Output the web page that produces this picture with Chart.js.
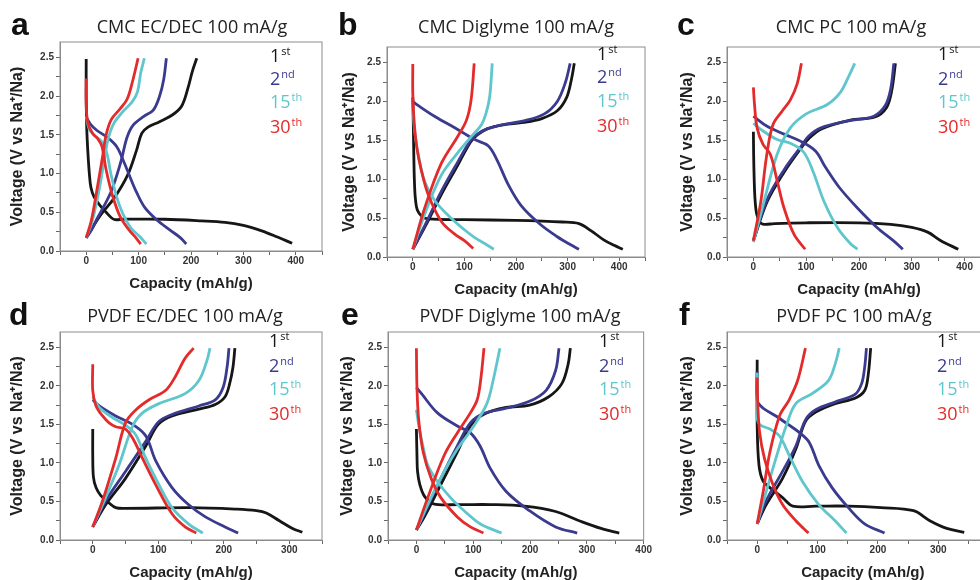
<!DOCTYPE html>
<html>
<head>
<meta charset="utf-8">
<script src="https://cdn.jsdelivr.net/npm/chart.js@4.4.1/dist/chart.umd.min.js"></script>
<style>
  html, body { margin: 0; padding: 0; background: #fff; }
  #fig { position: relative; width: 980px; height: 580px; overflow: hidden; background: #fff; }
  #fig canvas { position: absolute; }
  .ttl { position: absolute; width: 320px; text-align: center; font: 18px 'Open Sans', sans-serif; color: #222; line-height: 18px; white-space: nowrap; }
  .let { position: absolute; font: bold 32px 'Liberation Sans', Arial, sans-serif; color: #111; line-height: 32px; }
  .leg { position: absolute; font: 18px 'Open Sans', sans-serif; line-height: 18px; white-space: nowrap; }
  .leg sup { font-size: 11px; line-height: 0; vertical-align: baseline; position: relative; top: -7px; margin-left: 1px; }
</style>
</head>
<body>
<div id="fig"></div>
<script>
// cycles shown in every panel
const cycleLabels = ['1st', '2nd', '15th', '30th'];
const cycleSup = ['st', 'nd', 'th', 'th'];
const cycleNum = ['1', '2', '15', '30'];

// ---- panel a : CMC EC/DEC ----
const aDischarge = [
  [[0,2.48],[0,2.0],[1,1.6],[3,1.3],[6,1.0],[9,0.82],[15,0.7],[25,0.6],[38,0.5],[48,0.43],[55,0.405],[70,0.41],[150,0.41],[220,0.39],[265,0.37],[300,0.33],[335,0.26],[365,0.18],[393,0.10]],
  [[0,1.73],[8,1.64],[20,1.56],[40,1.47],[58,1.35],[72,1.15],[84,0.95],[96,0.76],[112,0.56],[135,0.40],[160,0.27],[180,0.17],[191,0.09]],
  [[0,1.74],[6,1.57],[15,1.5],[24,1.45],[33,1.38],[40,1.25],[47,1.0],[58,0.7],[70,0.48],[85,0.3],[103,0.18],[115,0.09]],
  [[0,2.23],[0,1.9],[3,1.66],[12,1.52],[22,1.45],[30,1.35],[38,1.05],[50,0.72],[65,0.44],[82,0.27],[95,0.17],[104,0.09]]
];
const aCharge = [
  [[0,0.17],[8,0.26],[28,0.47],[53,0.68],[79,0.98],[96,1.3],[106,1.52],[118,1.6],[140,1.67],[165,1.76],[182,1.87],[194,2.1],[203,2.33],[211,2.49]],
  [[0,0.17],[10,0.27],[21,0.42],[47,0.76],[66,1.15],[78,1.47],[90,1.63],[110,1.74],[128,1.82],[140,2.0],[148,2.22],[153,2.49]],
  [[0,0.17],[12,0.4],[25,0.8],[35,1.2],[42,1.45],[52,1.64],[70,1.8],[88,1.93],[98,2.06],[104,2.3],[111,2.49]],
  [[0,0.17],[10,0.4],[22,0.85],[32,1.25],[38,1.5],[48,1.7],[65,1.84],[78,1.96],[88,2.18],[99,2.49]]
];

// ---- panel b : CMC Diglyme ----
const bDischarge = [
  [[0,2.05],[1,1.7],[2,1.3],[3,1.0],[5,0.75],[9,0.6],[18,0.52],[30,0.49],[100,0.48],[200,0.47],[290,0.45],[322,0.43],[345,0.34],[370,0.22],[390,0.15],[407,0.10]],
  [[0,2.0],[10,1.95],[42,1.81],[87,1.64],[120,1.51],[146,1.43],[163,1.25],[185,0.93],[210,0.66],[245,0.43],[280,0.26],[305,0.16],[322,0.10]],
  [[0,1.9],[4,1.6],[11,1.3],[23,0.97],[42,0.73],[74,0.50],[100,0.35],[120,0.25],[140,0.17],[157,0.10]],
  [[0,2.48],[0,2.1],[3,1.7],[8,1.4],[16,1.13],[30,0.8],[55,0.46],[80,0.30],[100,0.21],[117,0.11]]
];
const bCharge = [
  [[0,0.1],[23,0.38],[55,0.80],[87,1.18],[112,1.48],[125,1.57],[145,1.65],[175,1.70],[215,1.73],[250,1.78],[280,1.88],[298,2.05],[307,2.27],[313,2.49]],
  [[0,0.1],[23,0.4],[55,0.84],[87,1.22],[112,1.5],[125,1.58],[145,1.65],[172,1.70],[215,1.75],[255,1.84],[280,2.0],[296,2.25],[305,2.49]],
  [[0,0.1],[23,0.55],[55,1.05],[87,1.34],[115,1.56],[133,1.7],[142,1.85],[149,2.06],[154,2.49]],
  [[0,0.1],[23,0.63],[55,1.2],[87,1.55],[104,1.76],[113,2.02],[119,2.49]]
];

// ---- panel c : CMC PC ----
const cDischarge = [
  [[0,1.61],[0.5,1.3],[1.5,1.0],[3,0.75],[6,0.56],[12,0.45],[20,0.42],[40,0.43],[100,0.44],[200,0.44],[260,0.42],[300,0.38],[330,0.32],[355,0.21],[388,0.10]],
  [[0,1.81],[26,1.68],[58,1.58],[89,1.49],[118,1.36],[135,1.17],[162,0.9],[197,0.63],[234,0.38],[265,0.21],[283,0.10]],
  [[0,1.72],[14,1.64],[45,1.51],[71,1.46],[95,1.35],[113,1.1],[134,0.71],[159,0.38],[184,0.17],[197,0.10]],
  [[0,2.18],[2,1.97],[7,1.66],[18,1.45],[32,1.32],[45,0.98],[58,0.63],[77,0.29],[98,0.10]]
];
const cCharge = [
  [[0,0.21],[26,0.71],[58,1.09],[89,1.39],[106,1.53],[130,1.65],[184,1.76],[230,1.8],[252,1.92],[262,2.14],[269,2.49]],
  [[0,0.21],[26,0.74],[58,1.12],[89,1.41],[104,1.55],[128,1.66],[180,1.75],[228,1.81],[250,1.95],[260,2.16],[266,2.49]],
  [[0,0.19],[20,0.71],[45,1.32],[70,1.66],[100,1.84],[140,1.96],[165,2.12],[181,2.33],[192,2.49]],
  [[0,0.21],[14,0.71],[25,1.3],[37,1.7],[55,1.88],[70,2.02],[83,2.23],[91,2.49]]
];

// ---- panel d : PVDF EC/DEC ----
const dDischarge = [
  [[0,1.44],[0,1.1],[1,0.82],[5,0.68],[12,0.58],[25,0.48],[35,0.42],[50,0.41],[150,0.42],[220,0.40],[250,0.38],[265,0.35],[285,0.25],[305,0.15],[320,0.10]],
  [[0,1.82],[10,1.74],[35,1.61],[61,1.50],[81,1.35],[96,1.03],[121,0.68],[146,0.46],[172,0.30],[202,0.17],[222,0.09]],
  [[0,1.86],[10,1.72],[30,1.59],[50,1.49],[66,1.36],[81,1.06],[101,0.72],[121,0.42],[146,0.21],[168,0.09]],
  [[0,2.28],[0,1.94],[5,1.74],[15,1.61],[25,1.52],[35,1.47],[50,1.44],[61,1.32],[76,1.06],[96,0.72],[121,0.34],[141,0.17],[158,0.09]]
];
const dCharge = [
  [[0,0.17],[20,0.46],[50,0.80],[81,1.22],[100,1.5],[121,1.61],[162,1.70],[187,1.76],[202,1.86],[209,2.03],[214,2.24],[217,2.49]],
  [[0,0.17],[20,0.51],[50,0.89],[81,1.28],[100,1.53],[121,1.63],[162,1.74],[187,1.82],[199,1.98],[205,2.24],[208,2.49]],
  [[0,0.17],[15,0.46],[40,0.97],[61,1.48],[76,1.65],[101,1.77],[141,1.90],[162,2.07],[174,2.32],[179,2.49]],
  [[0,0.17],[15,0.51],[35,1.06],[50,1.52],[66,1.69],[86,1.82],[111,1.94],[126,2.12],[141,2.36],[154,2.49]]
];

// ---- panel e : PVDF Diglyme ----
const eDischarge = [
  [[0,1.44],[1,1.1],[2,0.89],[6,0.72],[14,0.57],[30,0.47],[75,0.46],[130,0.46],[190,0.44],[245,0.37],[290,0.24],[325,0.15],[357,0.09]],
  [[0,1.98],[9,1.90],[37,1.65],[72,1.48],[95,1.39],[112,1.22],[130,0.93],[158,0.63],[199,0.38],[245,0.17],[283,0.09]],
  [[0,1.69],[5,1.45],[12,1.2],[20,0.97],[37,0.76],[60,0.55],[84,0.38],[112,0.21],[150,0.09]],
  [[0,2.49],[1,1.98],[4,1.56],[12,1.14],[26,0.80],[43,0.55],[72,0.30],[95,0.17],[118,0.09]]
];
const eCharge = [
  [[0,0.13],[14,0.30],[43,0.72],[72,1.14],[95,1.48],[118,1.63],[158,1.72],[199,1.75],[233,1.86],[256,2.03],[267,2.28],[271,2.49]],
  [[0,0.13],[14,0.34],[43,0.80],[72,1.22],[95,1.52],[118,1.64],[158,1.71],[199,1.80],[228,1.94],[245,2.20],[251,2.49]],
  [[0,0.13],[20,0.46],[49,0.89],[72,1.18],[101,1.48],[124,1.77],[135,2.07],[147,2.49]],
  [[0,0.13],[20,0.55],[49,1.10],[72,1.39],[95,1.65],[107,1.82],[113,2.07],[119,2.49]]
];

// ---- panel f : PVDF PC ----
const fDischarge = [
  [[0,2.34],[0,1.49],[3,0.97],[10,0.76],[21,0.68],[42,0.55],[59,0.44],[97,0.44],[151,0.44],[205,0.42],[259,0.38],[286,0.25],[314,0.15],[343,0.10]],
  [[0,2.19],[0,1.81],[10,1.71],[31,1.61],[53,1.49],[69,1.40],[86,1.27],[102,0.97],[124,0.68],[151,0.42],[178,0.21],[211,0.09]],
  [[0,2.17],[0,1.60],[4,1.50],[21,1.44],[37,1.35],[53,1.10],[75,0.76],[102,0.46],[129,0.25],[148,0.09]],
  [[0,2.11],[1,1.77],[4,1.40],[12,1.06],[26,0.72],[42,0.46],[64,0.25],[85,0.09]]
];
const fCharge = [
  [[0,0.21],[15,0.46],[42,0.80],[64,1.18],[80,1.54],[97,1.66],[129,1.77],[162,1.84],[178,1.94],[184,2.15],[188,2.49]],
  [[0,0.21],[15,0.51],[42,0.89],[64,1.22],[80,1.56],[97,1.69],[129,1.79],[162,1.89],[173,2.03],[178,2.24],[181,2.49]],
  [[0,0.21],[15,0.63],[31,1.06],[48,1.48],[64,1.77],[91,1.90],[118,2.07],[129,2.28],[136,2.49]],
  [[0,0.21],[10,0.63],[21,1.14],[37,1.61],[53,1.82],[67,2.07],[80,2.49]]
];

const panelTitles = ['CMC EC/DEC 100 mA/g', 'CMC Diglyme 100 mA/g', 'CMC PC 100 mA/g',
                     'PVDF EC/DEC 100 mA/g', 'PVDF Diglyme 100 mA/g', 'PVDF PC 100 mA/g'];
const panelLetters = ['a', 'b', 'c', 'd', 'e', 'f'];
const xMaxes = [450, 450, 450, 350, 400, 400];
const xTitle = 'Capacity (mAh/g)';
const yTitle = 'Voltage (V vs Na\u207A/Na)';

const discharges = [aDischarge, bDischarge, cDischarge, dDischarge, eDischarge, fDischarge];
const charges = [aCharge, bCharge, cCharge, dCharge, eCharge, fCharge];

// layout: plot box, y-title offset, title centre / baseline, letter, legend
const boxes = [
  {L: 60,  R: 322,  T: 38,  B: 251, yt: 42, tx: 192, tb: 33,  lx: 11,  lb: 33,  gx: 270, gb: [62, 85, 108, 133]},
  {L: 387, R: 645,  T: 43,  B: 257, yt: 37, tx: 516, tb: 33,  lx: 338, lb: 33,  gx: 597, gb: [60, 83, 107, 132]},
  {L: 727, R: 991,  T: 43,  B: 257, yt: 39, tx: 851, tb: 33,  lx: 677, lb: 33,  gx: 938, gb: [60, 85, 108, 133]},
  {L: 60,  R: 322,  T: 328, B: 540, yt: 42, tx: 185, tb: 322, lx: 9,   lb: 323, gx: 269, gb: [347, 372, 395, 420]},
  {L: 388, R: 648,  T: 328, B: 540, yt: 40, tx: 520, tb: 322, lx: 341, lb: 323, gx: 599, gb: [347, 372, 395, 420]},
  {L: 727, R: 1003, T: 328, B: 540, yt: 39, tx: 854, tb: 322, lx: 679, lb: 323, gx: 937, gb: [347, 372, 395, 420]}
];

const lineColors = ['#161616', '#3a3a8e', '#5ec6cc', '#e42b2b'];
const tickFont = {family: "'Liberation Sans', Arial, sans-serif", size: 10, weight: 'bold'};

const framePlugin = {
  id: 'frame',
  afterDraw(chart) {
    const {ctx, chartArea: a} = chart;
    ctx.save();
    ctx.strokeStyle = '#8c8c8c';
    ctx.lineWidth = 1;
    ctx.strokeRect(a.left, a.top, a.right - a.left, a.bottom - a.top);
    ctx.restore();
  }
};

const fig = document.getElementById('fig');

function toXY(arr) { return arr.map(p => ({x: p[0], y: p[1]})); }

function addText(cls, left, top, html, color) {
  const d = document.createElement('div');
  d.className = cls;
  d.style.left = left + 'px';
  d.style.top = top + 'px';
  if (color) d.style.color = color;
  d.innerHTML = html;
  fig.appendChild(d);
}

boxes.forEach((b, k) => {
  const W = b.R - b.L + 62, H = b.B - b.T + 46;
  const cv = document.createElement('canvas');
  cv.width = W; cv.height = H;
  cv.style.left = (b.L - 58) + 'px';
  cv.style.top = (b.T - 4) + 'px';
  cv.style.width = W + 'px'; cv.style.height = H + 'px';
  fig.appendChild(cv);

  const datasets = [];
  for (let i = 3; i >= 0; i--) {
    [discharges[k][i], charges[k][i]].forEach((curve, j) => {
      datasets.push({
        label: cycleLabels[i] + (j ? ' charge' : ' discharge'),
        data: toXY(curve),
        showLine: true,
        borderColor: lineColors[i],
        borderWidth: 2.8,
        pointRadius: 0,
        tension: 0.35,
        fill: false
      });
    });
  }

  new Chart(cv, {
    type: 'scatter',
    data: {datasets},
    options: {
      responsive: false,
      animation: false,
      layout: {padding: {top: 4, right: 4, left: 0, bottom: 0}},
      plugins: {legend: {display: false}, tooltip: {enabled: false}},
      scales: {
        x: {
          type: 'linear', min: -50, max: xMaxes[k],
          afterFit: s => { s.height = 42; },
          ticks: {stepSize: 50, autoSkip: false, maxRotation: 0, includeBounds: false, padding: 0,
                  font: tickFont, color: '#333',
                  callback: v => (v >= 0 && v % 100 === 0) ? String(v) : ''},
          grid: {drawOnChartArea: false, tickLength: 4, color: '#666'},
          border: {display: true, color: '#8c8c8c'},
          title: {display: true, text: xTitle, color: '#222', padding: 0,
                  font: {family: "'Liberation Sans', Arial, sans-serif", size: 15, weight: 'bold'}}
        },
        y: {
          type: 'linear', min: 0, max: 2.7,
          afterFit: s => { s.width = 58; },
          ticks: {stepSize: 0.25, autoSkip: false, includeBounds: false, padding: 2,
                  font: tickFont, color: '#333',
                  callback: v => (Math.abs(v * 2 - Math.round(v * 2)) < 1e-6) ? v.toFixed(1) : ''},
          grid: {drawOnChartArea: false, tickLength: 4, color: '#666'},
          border: {display: true, color: '#8c8c8c'},
          title: {display: true, text: yTitle, color: '#222', padding: {top: 58 - b.yt - 9.6, bottom: 0},
                  font: {family: "'Liberation Sans', Arial, sans-serif", size: 16, weight: 'bold'}}
        }
      }
    },
    plugins: [framePlugin]
  });

  addText('ttl', b.tx - 160, b.tb - 16, panelTitles[k]);
  addText('let', b.lx, b.lb - 25, panelLetters[k]);
  for (let i = 0; i < 4; i++) {
    addText('leg', b.gx, b.gb[i] - 16, cycleNum[i] + '<sup>' + cycleSup[i] + '</sup>', lineColors[i]);
  }
});
</script>
</body>
</html>
